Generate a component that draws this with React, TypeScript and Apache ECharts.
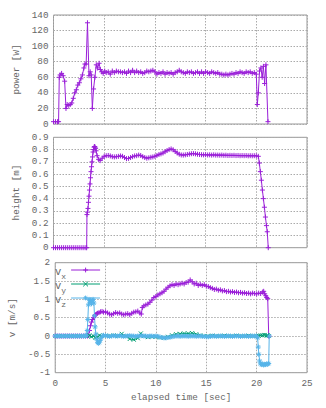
import React, { useEffect, useRef } from 'react';
import * as echarts from 'echarts';

// ---- axes ----
const timeRange = [0, 25, 5];
const powerRange = [0, 140, 20];
const heightRange = [0, 0.9, 0.1];
const velRange = [-1, 2, 0.5];

// ---- data [elapsed time (s), value] ----
const powerData: number[][] = [
  [0, 3], [0.2, 3], [0.4, 3], [0.5, 3], [0.57, 60], [0.65, 63], [0.8, 65], [0.95, 62], [1.1, 55], [1.23, 20],
  [1.35, 25], [1.5, 24], [1.65, 25], [1.8, 27], [1.95, 33], [2.1, 40], [2.25, 44], [2.4, 50], [2.55, 53], [2.7, 58],
  [2.85, 63], [3.0, 72], [3.1, 77], [3.22, 77], [3.35, 130], [3.5, 62], [3.62, 67], [3.72, 63], [3.83, 20], [3.95, 45],
  [4.08, 60], [4.22, 76], [4.35, 72], [4.5, 78], [4.62, 70], [4.75, 67], [4.9, 65], [5.05, 68], [5.2, 66], [5.4, 67],
  [5.6, 64], [5.8, 68], [6.0, 66], [6.2, 68], [6.4, 67], [6.6, 67], [6.8, 66], [7.0, 67], [7.2, 65], [7.4, 68],
  [7.6, 66], [7.8, 69], [8.0, 66], [8.2, 68], [8.4, 66], [8.6, 67], [8.8, 65], [9.0, 66], [9.2, 68], [9.4, 67],
  [9.6, 68], [9.8, 69], [10.0, 67], [10.2, 64], [10.4, 66], [10.6, 65], [10.8, 67], [11.0, 64], [11.2, 66], [11.4, 65],
  [11.6, 66], [11.8, 64], [12.0, 66], [12.2, 67], [12.4, 69], [12.6, 67], [12.8, 66], [13.0, 65], [13.2, 67], [13.4, 66],
  [13.6, 67], [13.8, 65], [14.0, 66], [14.2, 67], [14.4, 65], [14.6, 67], [14.8, 65], [15.0, 67], [15.2, 66], [15.4, 65],
  [15.6, 67], [15.8, 66], [16.0, 65], [16.2, 66], [16.4, 64], [16.6, 64], [16.8, 63], [17.0, 64], [17.2, 63], [17.4, 64],
  [17.6, 65], [17.8, 64], [18.0, 66], [18.2, 65], [18.4, 67], [18.6, 66], [18.8, 65], [19.0, 67], [19.2, 66], [19.4, 67],
  [19.6, 65], [19.8, 66], [20.0, 64], [20.1, 25], [20.2, 40], [20.32, 68], [20.45, 72], [20.58, 60], [20.7, 74], [20.82, 52],
  [20.95, 76], [21.15, 3],
];

const heightData: number[][] = [
  [0, 0], [0.2, 0], [0.4, 0], [0.6, 0], [0.8, 0], [1.0, 0], [1.2, 0], [1.4, 0], [1.6, 0], [1.8, 0],
  [2.0, 0], [2.2, 0], [2.4, 0], [2.6, 0], [2.8, 0], [3.0, 0], [3.2, 0], [3.27, 0], [3.3, 0.27], [3.35, 0.29],
  [3.4, 0.32], [3.45, 0.37], [3.5, 0.42], [3.55, 0.47], [3.6, 0.52], [3.65, 0.57], [3.7, 0.62], [3.75, 0.66], [3.8, 0.7], [3.85, 0.74],
  [3.9, 0.78], [3.95, 0.8], [4.0, 0.82], [4.05, 0.825], [4.1, 0.82], [4.15, 0.81], [4.2, 0.79], [4.3, 0.75], [4.45, 0.72], [4.6, 0.71],
  [4.8, 0.73], [5.0, 0.745], [5.2, 0.75], [5.4, 0.752], [5.6, 0.748], [5.8, 0.742], [6.0, 0.74], [6.2, 0.742], [6.4, 0.745], [6.6, 0.748],
  [6.8, 0.745], [7.0, 0.735], [7.2, 0.726], [7.4, 0.728], [7.6, 0.735], [7.8, 0.742], [8.0, 0.748], [8.2, 0.75], [8.4, 0.755], [8.6, 0.752],
  [8.8, 0.742], [9.0, 0.735], [9.2, 0.73], [9.4, 0.733], [9.6, 0.737], [9.8, 0.74], [10.0, 0.745], [10.2, 0.752], [10.4, 0.76], [10.6, 0.765],
  [10.8, 0.772], [11.0, 0.782], [11.2, 0.792], [11.4, 0.8], [11.6, 0.805], [11.8, 0.798], [12.0, 0.785], [12.2, 0.772], [12.4, 0.762], [12.6, 0.756],
  [12.8, 0.755], [13.0, 0.757], [13.2, 0.76], [13.4, 0.763], [13.6, 0.766], [13.8, 0.767], [14.0, 0.765], [14.2, 0.762], [14.4, 0.76], [14.6, 0.758],
  [14.8, 0.757], [15.0, 0.758], [15.2, 0.756], [15.4, 0.757], [15.6, 0.755], [15.8, 0.757], [16.0, 0.755], [16.2, 0.755], [16.4, 0.754], [16.6, 0.755],
  [16.8, 0.753], [17.0, 0.754], [17.2, 0.752], [17.4, 0.753], [17.6, 0.752], [17.8, 0.753], [18.0, 0.751], [18.2, 0.752], [18.4, 0.75], [18.6, 0.751],
  [18.8, 0.75], [19.0, 0.751], [19.2, 0.749], [19.4, 0.75], [19.6, 0.749], [19.8, 0.75], [20.0, 0.749], [20.2, 0.745], [20.3, 0.69], [20.4, 0.62],
  [20.5, 0.55], [20.6, 0.47], [20.7, 0.4], [20.8, 0.33], [20.9, 0.25], [21.0, 0.18], [21.08, 0.13], [21.18, 0],
];

const vxData: number[][] = [
  [0, 0], [0.2, 0], [0.4, 0], [0.6, 0], [0.8, 0], [1.0, 0], [1.2, 0], [1.4, 0], [1.6, 0], [1.8, 0],
  [2.0, 0], [2.2, 0], [2.4, 0], [2.6, 0], [2.8, 0], [3.0, 0], [3.2, 0], [3.3, 0.02], [3.4, 0.15], [3.5, 0.28],
  [3.6, 0.38], [3.7, 0.45], [3.8, 0.5], [3.9, 0.55], [4.0, 0.58], [4.1, 0.6], [4.2, 0.62], [4.35, 0.64], [4.5, 0.66], [4.65, 0.67],
  [4.8, 0.65], [5.0, 0.66], [5.2, 0.63], [5.4, 0.6], [5.6, 0.58], [5.8, 0.61], [6.0, 0.64], [6.2, 0.62], [6.4, 0.63], [6.6, 0.6],
  [6.8, 0.58], [7.0, 0.6], [7.2, 0.61], [7.4, 0.58], [7.6, 0.62], [7.8, 0.65], [8.0, 0.66], [8.2, 0.68], [8.4, 0.63], [8.55, 0.6],
  [8.65, 0.78], [8.8, 0.82], [9.0, 0.85], [9.2, 0.87], [9.4, 0.92], [9.6, 0.98], [9.8, 1.05], [10.0, 1.08], [10.2, 1.12], [10.4, 1.15],
  [10.6, 1.18], [10.8, 1.22], [11.0, 1.28], [11.2, 1.33], [11.4, 1.37], [11.6, 1.4], [11.8, 1.38], [12.0, 1.42], [12.2, 1.4], [12.4, 1.42],
  [12.6, 1.44], [12.8, 1.42], [13.0, 1.46], [13.2, 1.47], [13.4, 1.53], [13.6, 1.48], [13.8, 1.42], [14.0, 1.44], [14.2, 1.38], [14.4, 1.41],
  [14.6, 1.38], [14.8, 1.4], [15.0, 1.36], [15.2, 1.35], [15.4, 1.32], [15.6, 1.3], [15.8, 1.27], [16.0, 1.28], [16.2, 1.25], [16.4, 1.26],
  [16.6, 1.23], [16.8, 1.24], [17.0, 1.21], [17.2, 1.22], [17.4, 1.2], [17.6, 1.21], [17.8, 1.19], [18.0, 1.2], [18.2, 1.18], [18.4, 1.19],
  [18.6, 1.17], [18.8, 1.18], [19.0, 1.16], [19.2, 1.17], [19.4, 1.15], [19.6, 1.17], [19.8, 1.16], [20.0, 1.15], [20.2, 1.17], [20.4, 1.16],
  [20.6, 1.2], [20.7, 1.22], [20.8, 1.15], [20.9, 1.1], [21.0, 1.05], [21.1, 1.02], [21.2, 0],
];

const vyData: number[][] = [
  [0, 0], [0.4, 0], [0.8, 0], [1.2, 0], [1.6, 0], [2.0, 0], [2.4, 0], [2.8, 0], [3.2, 0], [3.4, 0.02],
  [3.6, -0.02], [3.8, 0.0], [4.0, -0.05], [4.2, -0.03], [4.4, 0.02], [4.6, 0.0], [5.0, 0.01], [5.4, 0.0], [5.8, 0.02], [6.2, 0.0],
  [6.6, 0.06], [7.0, 0.0], [7.4, -0.08], [7.8, -0.1], [8.2, -0.06], [8.5, 0.07], [8.8, 0.0], [9.2, -0.03], [9.6, -0.02], [10.0, -0.02],
  [10.4, -0.04], [10.8, -0.05], [11.2, -0.02], [11.6, 0.02], [12.0, 0.05], [12.4, 0.06], [12.8, 0.07], [13.2, 0.07], [13.6, 0.08], [14.0, 0.05],
  [14.4, 0.02], [14.8, 0.0], [15.2, 0.0], [15.6, 0.01], [16.0, 0.0], [16.4, 0.0], [16.8, 0.01], [17.2, 0.0], [17.6, 0.0], [18.0, 0.01],
  [18.4, 0.0], [18.8, 0.0], [19.2, 0.01], [19.6, 0.0], [20.0, 0.0], [20.2, 0.01], [20.4, 0.02], [20.6, 0.02], [20.8, 0.03], [21.0, 0.02],
  [21.1, 0.02], [21.2, 0.0],
];

const vzData: number[][] = [
  [0, 0], [0.2, 0], [0.4, 0], [0.6, 0], [0.8, 0], [1.0, 0], [1.2, 0], [1.4, 0], [1.6, 0], [1.8, 0],
  [2.0, 0], [2.2, 0], [2.4, 0], [2.6, 0], [2.8, 0], [3.0, 0], [3.1, 0.02], [3.18, 0.15], [3.24, 0.45], [3.3, 0.85],
  [3.36, 1.0], [3.44, 0.92], [3.52, 0.98], [3.6, 0.88], [3.68, 0.96], [3.76, 1.0], [3.84, 0.9], [3.9, 0.55], [3.96, 0.25], [4.04, 0.05],
  [4.12, -0.08], [4.2, -0.17], [4.28, -0.2], [4.36, -0.18], [4.46, -0.12], [4.56, -0.05], [4.68, 0.0], [4.8, 0.02], [5.0, 0.01], [5.2, 0.0],
  [5.4, -0.01], [5.6, 0.0], [5.8, 0.01], [6.0, 0.0], [6.2, 0.0], [6.4, 0.01], [6.6, 0.0], [6.8, -0.01], [7.0, 0.0], [7.2, 0.0],
  [7.4, 0.01], [7.6, 0.0], [7.8, 0.0], [8.0, -0.01], [8.2, 0.0], [8.4, 0.0], [8.6, 0.01], [8.8, 0.0], [9.0, 0.0], [9.2, -0.01],
  [9.4, 0.0], [9.6, 0.0], [9.8, -0.01], [10.0, 0.0], [10.2, -0.01], [10.4, -0.03], [10.6, -0.04], [10.8, -0.05], [11.0, -0.05], [11.2, -0.04],
  [11.4, -0.03], [11.6, -0.02], [11.8, -0.01], [12.0, 0.0], [12.2, 0.0], [12.4, -0.01], [12.6, 0.0], [12.8, 0.0], [13.0, 0.0], [13.2, -0.01],
  [13.4, 0.0], [13.6, 0.0], [13.8, 0.0], [14.0, -0.01], [14.2, 0.0], [14.4, 0.0], [14.6, -0.01], [14.8, -0.01], [15.0, -0.02], [15.2, -0.02],
  [15.4, -0.01], [15.6, 0.0], [15.8, 0.0], [16.0, -0.01], [16.2, 0.0], [16.4, 0.0], [16.6, 0.0], [16.8, -0.01], [17.0, 0.0], [17.2, 0.0],
  [17.4, 0.0], [17.6, -0.01], [17.8, 0.0], [18.0, 0.0], [18.2, 0.0], [18.4, -0.01], [18.6, 0.0], [18.8, 0.0], [19.0, 0.0], [19.2, -0.01],
  [19.4, 0.0], [19.6, 0.0], [19.8, 0.0], [20.0, 0.0], [20.1, -0.05], [20.16, -0.3], [20.22, -0.5], [20.3, -0.68], [20.38, -0.76], [20.5, -0.78],
  [20.6, -0.76], [20.7, -0.79], [20.8, -0.77], [20.9, -0.78], [21.0, -0.76], [21.1, -0.77], [21.2, -0.75], [21.25, 0.0],
];

const legendNames = ['vx', 'vy', 'vz'];

const PURPLE = '#9a1fd8';
const GREEN = '#009e73';
const BLUE = '#56b4e9';
const FONT = 'Liberation Mono';
const TEXT = '#666';

const PLUS = 'path://M0,5L10,5M5,0L5,10';
const CROSS = 'path://M0,0L10,10M10,0L0,10';
const STAR = 'path://M0,5L10,5M5,0L5,10M1.5,1.5L8.5,8.5M8.5,1.5L1.5,8.5';

export default function App() {
  const ref = useRef<HTMLDivElement>(null);

  useEffect(() => {
    document.body.style.margin = '0';
    const chart = echarts.init(ref.current!, null, { renderer: 'svg' });

    const grids = [
      { left: 53.5, top: 15, width: 253.5, height: 109 },
      { left: 53.5, top: 137.3, width: 253.5, height: 110.4 },
      { left: 53.5, top: 262.7, width: 253.5, height: 110 },
    ].map((g) => ({ ...g, show: true, borderColor: '#999', borderWidth: 1, backgroundColor: 'transparent' }));

    const splitLine = { show: true, lineStyle: { color: '#aaa', width: 1, type: [1.5, 1.5] as any } };
    const axisLabel = { color: TEXT, fontFamily: FONT, fontSize: 9.3 };

    const xAxes = [0, 1, 2].map((i) => ({
      type: 'value',
      gridIndex: i,
      min: timeRange[0],
      max: timeRange[1],
      interval: timeRange[2],
      axisLine: { show: false },
      axisTick: { show: false },
      splitLine,
      axisLabel: { ...axisLabel, show: i === 2, margin: 6 },
      name: i === 2 ? 'elapsed time [sec]' : '',
      nameLocation: 'middle',
      nameGap: 20,
      nameTextStyle: { color: TEXT, fontFamily: FONT, fontSize: 9.3 },
    }));

    const yRanges = [powerRange, heightRange, velRange];
    const yNames = ['power [W]', 'height [m]', 'v [m/s]'];
    const yAxes = [0, 1, 2].map((i) => ({
      type: 'value',
      gridIndex: i,
      min: yRanges[i][0],
      max: yRanges[i][1],
      interval: yRanges[i][2],
      axisLine: { show: false },
      axisTick: { show: false },
      splitLine,
      axisLabel: { ...axisLabel, margin: 5 },
      name: yNames[i],
      nameLocation: 'middle',
      nameGap: 29,
      nameRotate: 90,
      nameTextStyle: { color: TEXT, fontFamily: FONT, fontSize: 9.3 },
    }));

    const mk = (name: string, data: number[][], idx: number, color: string, symbol: string, size: number) => ({
      name,
      type: 'line',
      xAxisIndex: idx,
      yAxisIndex: idx,
      data,
      symbol,
      symbolSize: size,
      showSymbol: true,
      lineStyle: { color, width: 1 },
      itemStyle: { color, borderColor: color, borderWidth: 1 },
      emphasis: { disabled: true },
    });

    chart.setOption({
      animation: false,
      backgroundColor: '#fff',
      textStyle: { fontFamily: FONT },
      grid: grids,
      xAxis: xAxes,
      yAxis: yAxes,
      legend: {
        data: legendNames,
        orient: 'vertical',
        left: 55,
        top: 266,
        align: 'right',
        itemWidth: 29,
        itemHeight: 6,
        itemGap: 0,
        padding: 0,
        itemStyle: { borderWidth: 1 },
        lineStyle: { width: 1 },
        textStyle: {
          color: TEXT,
          fontFamily: FONT,
          rich: {
            v: { fontSize: 10.5, lineHeight: 8, verticalAlign: 'top', color: TEXT, fontFamily: FONT },
            s: { fontSize: 8, lineHeight: 4, padding: [6, 0, 0, 0], verticalAlign: 'top', color: TEXT, fontFamily: FONT },
          },
        },
        formatter: (n: string) => `{v|v}{s|${n.slice(1)}}`,
      },
      series: [
        mk('power', powerData, 0, PURPLE, PLUS, 5),
        mk('height', heightData, 1, PURPLE, PLUS, 5),
        mk('vx', vxData, 2, PURPLE, PLUS, 5),
        mk('vy', vyData, 2, GREEN, CROSS, 4),
        mk('vz', vzData, 2, BLUE, STAR, 5),
      ],
    });

    return () => chart.dispose();
  }, []);

  return <div ref={ref} style={{ position: 'absolute', left: 0, top: 0, width: 326, height: 408 }} />;
}
